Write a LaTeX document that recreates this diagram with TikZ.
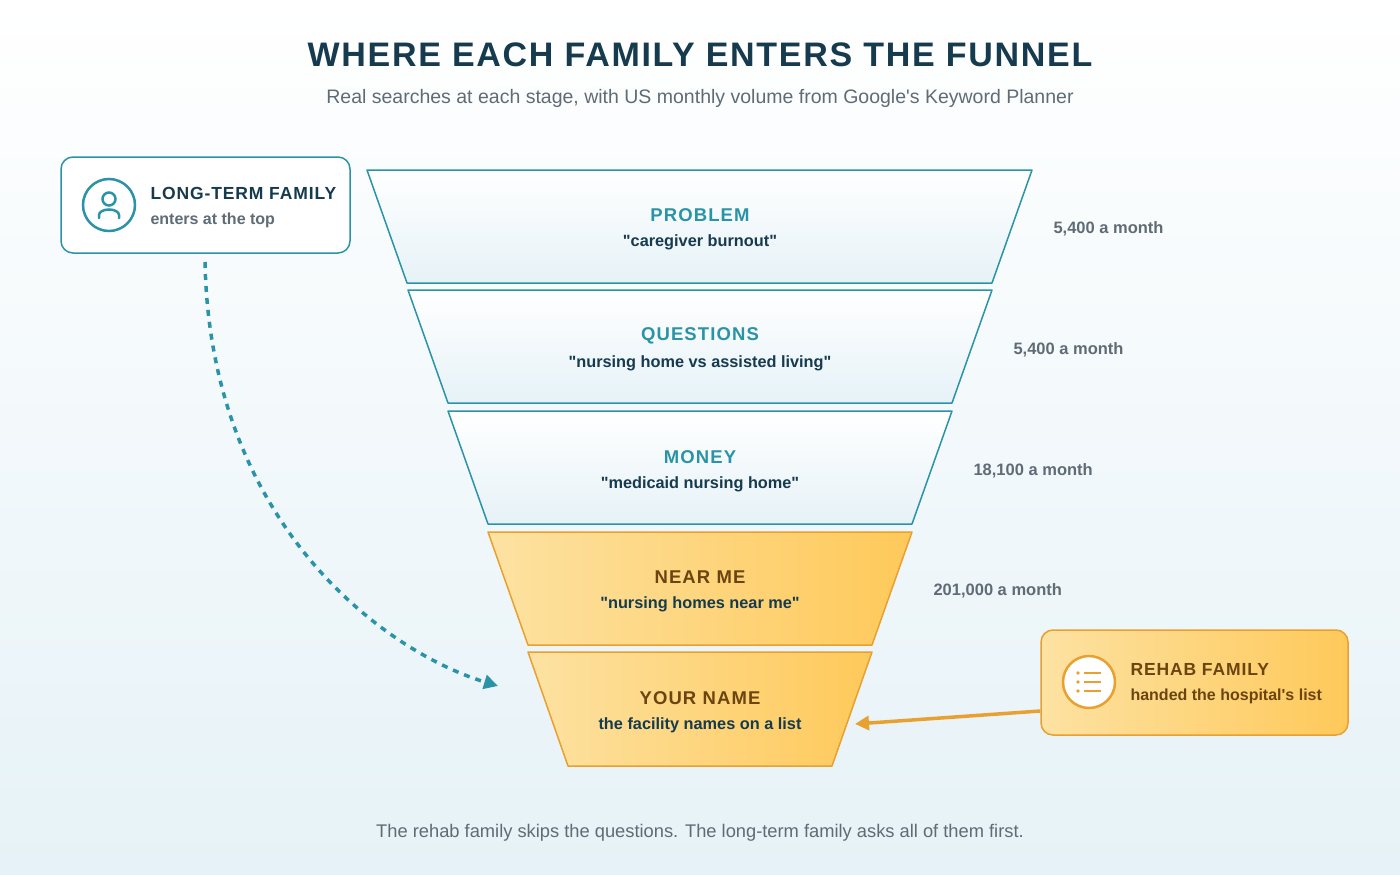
\documentclass[tikz,border=0pt]{standalone}
\usepackage{fontspec}
\setmainfont{Liberation Sans}[Ligatures=TeXOff]
\usetikzlibrary{arrows.meta,calc}
\definecolor{navy}{HTML}{163A4E}
\definecolor{teal}{HTML}{2A93A8}
\definecolor{gry}{HTML}{5F6B75}
\definecolor{orng}{HTML}{E8A030}
\definecolor{brn}{HTML}{6B4410}
\definecolor{olight}{HTML}{FDE2A2}
\definecolor{odark}{HTML}{FEC95A}
\definecolor{blight}{HTML}{E6F2F7}
\tikzset{
 bstage/.style={draw=teal,line width=1.5pt,top color=white,bottom color=blight,line join=round},
 ostage/.style={draw=orng,line width=1.5pt,left color=olight,right color=odark,line join=round},
 head/.style={font=\bfseries\fontsize{18.5}{20}\selectfont\addfontfeatures{LetterSpace=6},text=teal},
 ohead/.style={font=\bfseries\fontsize{18.5}{20}\selectfont\addfontfeatures{LetterSpace=6},text=brn},
 sub/.style={font=\bfseries\fontsize{16.3}{18}\selectfont,text=navy},
 vol/.style={font=\bfseries\fontsize{16.5}{18}\selectfont,text=gry,anchor=west},
}
\begin{document}
\begin{tikzpicture}[x=1pt,y=-1pt]
\shade[top color=white,bottom color=blight] (0,0) rectangle (1400,875);
\useasboundingbox (0,0) rectangle (1400,875);
\node[font=\bfseries\fontsize{34}{38}\selectfont\addfontfeatures{LetterSpace=5},text=navy] (title) at (700,55) {WHERE EACH FAMILY ENTERS THE FUNNEL};
\node[font=\fontsize{19.5}{22}\selectfont,text=gry] (subtitle) at (700,98) {Real searches at each stage, with US monthly volume from Google's Keyword Planner};
% funnel
\path[bstage] (367,170) -- (1032,170) -- (992,283) -- (407,283) -- cycle;
\path[bstage] (408,290) -- (992,290) -- (952,403) -- (448,403) -- cycle;
\path[bstage] (448,411) -- (952,411) -- (912,524) -- (488,524) -- cycle;
\path[ostage] (488,532) -- (912,532) -- (872,645) -- (528,645) -- cycle;
\path[ostage] (528,652) -- (872,652) -- (832,766) -- (568,766) -- cycle;
\node[head] (h1) at (700,215) {PROBLEM};
\node[sub] (s1) at (700,242) {"caregiver burnout"};
\node[head] (h2) at (700,336) {QUESTIONS};
\node[sub] (s2) at (700,363) {"nursing home vs assisted living"};
\node[head] (h3) at (700,457) {MONEY};
\node[sub] (s3) at (700,484) {"medicaid nursing home"};
\node[ohead] (h4) at (700,577) {NEAR ME};
\node[sub] (s4) at (700,604) {"nursing homes near me"};
\node[ohead] (h5) at (700,698) {YOUR NAME};
\node[sub] (s5) at (700,725) {the facility names on a list};
\node[vol] (v1) at (1050,229) {5,400 a month};
\node[vol] (v2) at (1010,350) {5,400 a month};
\node[vol] (v3) at (970,471) {18,100 a month};
\node[vol] (v4) at (930,591) {201,000 a month};
% left box
\node[draw=teal,line width=1.5pt,fill=white,rounded corners=12pt,minimum width=289pt,minimum height=96pt] (lbox) at (205.5,205) {};
\draw[teal,line width=2.5pt,fill=white] (109,205) circle (26);
\draw[teal,line width=2.5pt] (109,199) circle (6.5);
\draw[teal,line width=2.5pt,line cap=round] (99,218) -- (99,215) arc (180:360:10 and 5.5) -- (119,218);
\node[font=\bfseries\fontsize{17.5}{19}\selectfont\addfontfeatures{LetterSpace=5},text=navy,anchor=west] (lt) at (147,193) {LONG-TERM FAMILY};
\node[font=\bfseries\fontsize{16}{17}\selectfont,text=gry,anchor=west] (ls) at (147,220) {enters at the top};
% right box
\node[draw=orng,line width=1.5pt,left color=olight,right color=odark,rounded corners=12pt,minimum width=307pt,minimum height=105pt] (rbox) at (1194.5,682.5) {};
\draw[orng,line width=2.5pt,fill=white] (1089,682) circle (26);
\foreach \yy in {673,682,691}{
 \fill[orng] (1078,\yy) circle (1.8);
 \draw[orng,line width=2.5pt] (1084,\yy) -- (1101,\yy);}
\node[font=\bfseries\fontsize{17.5}{19}\selectfont\addfontfeatures{LetterSpace=5},text=brn,anchor=west] (rt) at (1127,669) {REHAB FAMILY};
\node[font=\bfseries\fontsize{16}{17}\selectfont,text=brn,anchor=west] (rs) at (1127,696) {handed the hospital's list};
% connectors
\coordinate (lend) at (498,686);
\coordinate (rend) at (855,724);
\draw[teal,line width=3.5pt,dash pattern=on 6pt off 6pt,-{Triangle[length=14pt,width=14pt]}] (205,262) .. controls (210,520) and (380,650) .. (lend);
\draw[orng,line width=3.5pt,-{Triangle[length=14pt,width=14pt]}] (rbox.west |- 0,711) -- (rend);
\node[font=\fontsize{18.3}{20}\selectfont,text=gry] (foot) at (700,833) {The rehab family skips the questions. The long-term family asks all of them first.};
\end{tikzpicture}
\end{document}
